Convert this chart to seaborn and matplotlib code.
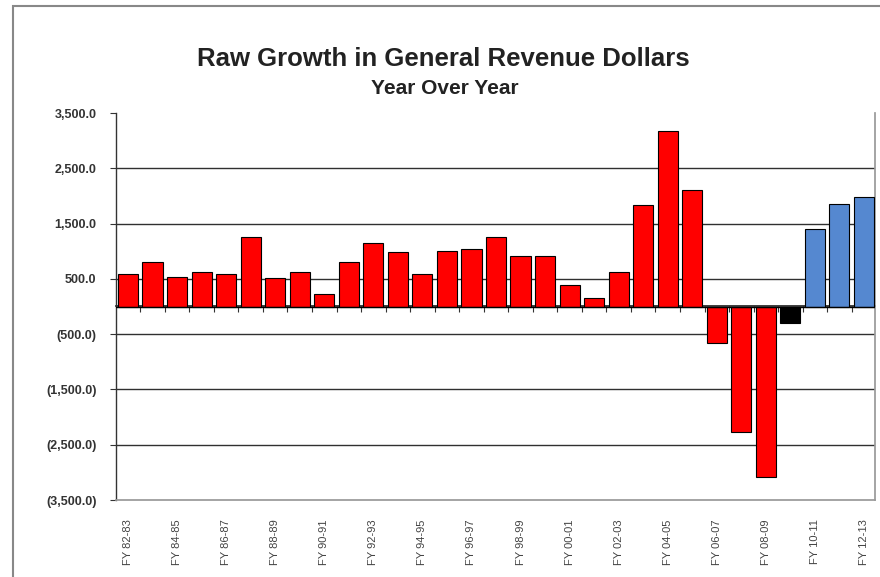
import numpy as np
import pandas as pd
import matplotlib
matplotlib.use("Agg")
import matplotlib.pyplot as plt
import seaborn as sns
from matplotlib.ticker import FuncFormatter
from matplotlib.patches import Rectangle

years = [f"FY {y % 100:02d}-{(y + 1) % 100:02d}" for y in range(1982, 2013)]
values = [590, 800, 530, 620, 590, 1250, 510, 630, 220, 800,
          1140, 990, 590, 1000, 1040, 1250, 920, 920, 380, 150,
          630, 1840, 3170, 2100, -660, -2270, -3090, -300, 1410, 1850, 1980]
kind = ["actual"] * 27 + ["estimate"] + ["projected"] * 3
kind_colors = {"actual": "#FF0000", "estimate": "#000000", "projected": "#5588D0"}
yticks = [3500, 2500, 1500, 500, -500, -1500, -2500, -3500]
gridlines = [2500, 1500, 500, -500, -1500, -2500]

df = pd.DataFrame({"year": years, "value": values, "kind": kind})

sns.set_theme(style="white")
plt.rcParams['font.family'] = ['Liberation Sans', 'DejaVu Sans']

fig = plt.figure(figsize=(8.8, 5.77), dpi=100)
ax = fig.add_axes([116/880, 1 - 500/577, (875 - 116)/880, (500 - 113)/577])

sns.barplot(data=df, x="year", y="value", hue="year",
            palette=[kind_colors[k] for k in kind], legend=False, saturation=1,
            width=0.82, edgecolor="black", linewidth=0.8, ax=ax, zorder=3)

ax.set_ylim(-3500, 3500)
ax.set_xlim(-0.49, 30.45)
for g in gridlines:
    ax.axhline(g, color="#303030", lw=1.0, zorder=1)
ax.axhline(0, color="black", lw=1.0, zorder=4)

ax.set_yticks(yticks)
ax.yaxis.set_major_formatter(FuncFormatter(
    lambda v, p: f"{v:,.1f}" if v >= 0 else f"({-v:,.1f})"))
ax.tick_params(axis="y", length=4, width=0.8, direction="out", left=True,
               labelsize=9, labelcolor="#333333", color="#333333", pad=10)
for lab in ax.get_yticklabels():
    lab.set_fontweight("bold")

ax.set_xticks(range(0, len(years), 2))
ax.set_xticklabels(years[::2], rotation=90, fontsize=8, color="#444444")
ax.tick_params(axis="x", length=0, pad=14)
ax.set_xlabel("")
ax.set_ylabel("")

sec = ax.secondary_xaxis(0.5)
bounds = np.arange(0.5, len(years) - 1, 1)
sec.set_xticks(bounds, labels=[""] * len(bounds))
sec.tick_params(axis="x", length=4, width=0.8, direction="in", color="#333333")
sec.spines["bottom"].set_visible(False)

ax.spines["left"].set_color("#333333")
ax.spines["left"].set_linewidth(1.0)
ax.spines["top"].set_visible(False)
ax.spines["right"].set_color("#999999")
ax.spines["bottom"].set_color("#999999")

fig.text(443/880, 1 - 59/577, "Raw Growth in General Revenue Dollars",
         ha="center", va="center", fontsize=18.5, fontweight="bold", color="#222222")
fig.text(445/880, 1 - 88/577, "Year Over Year",
         ha="center", va="center", fontsize=15, fontweight="bold", color="#222222")

fig.patches.append(Rectangle((13/880, -0.05), 1.1, 1 - 6/577 + 0.05,
                             transform=fig.transFigure, fill=False,
                             edgecolor="#888888", lw=1.5))

fig.savefig("out.png", dpi=100)
